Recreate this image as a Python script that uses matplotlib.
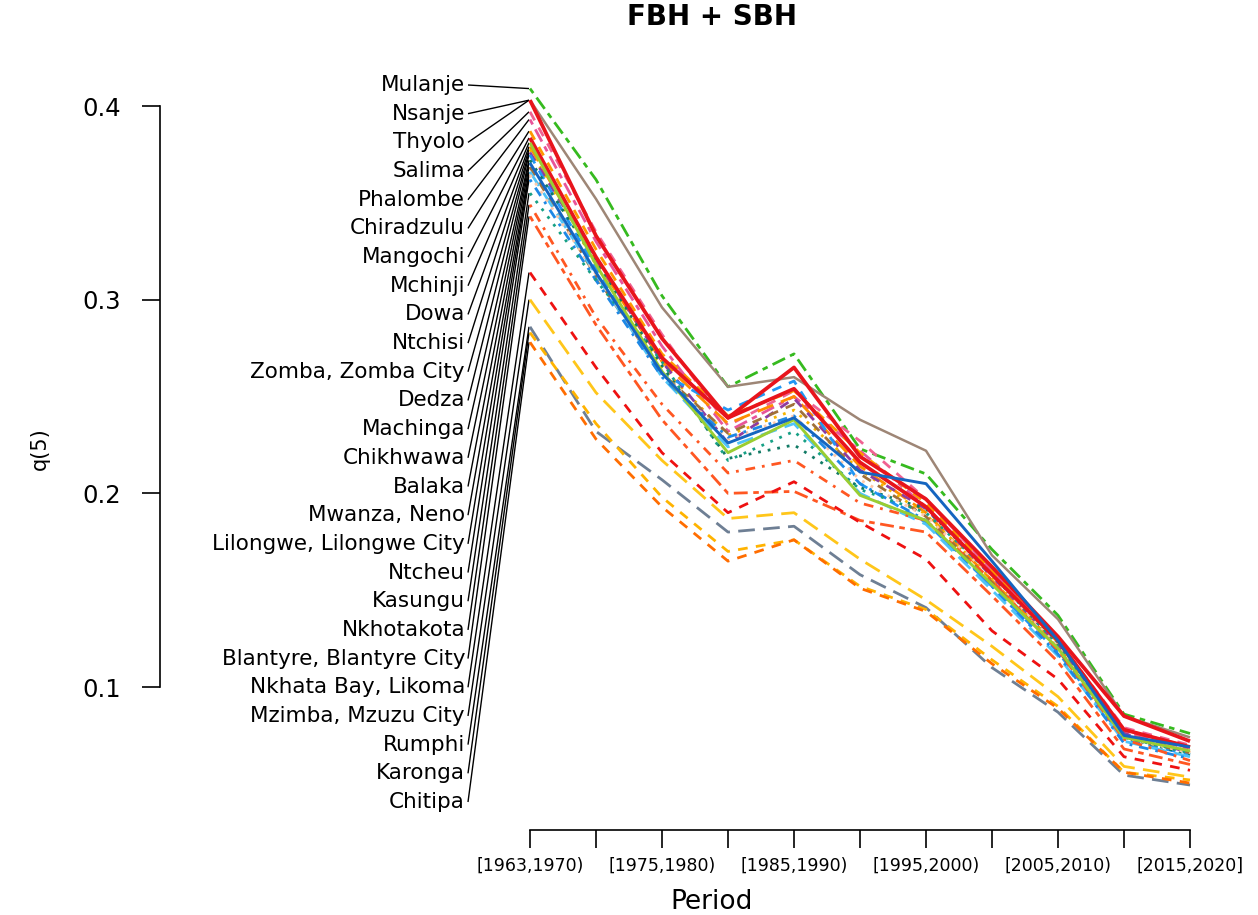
import matplotlib
matplotlib.use("Agg")
import matplotlib.pyplot as plt
import numpy as np

# ---------------- data ----------------
periods = ["[1963,1970)", "[1970,1975)", "[1975,1980)", "[1980,1985)", "[1985,1990)",
           "[1990,1995)", "[1995,2000)", "[2000,2005)", "[2005,2010)", "[2010,2015)",
           "[2015,2020]"]

districts = ["Mulanje", "Nsanje", "Thyolo", "Salima", "Phalombe", "Chiradzulu", "Mangochi",
             "Mchinji", "Dowa", "Ntchisi", "Zomba, Zomba City", "Dedza", "Machinga",
             "Chikhwawa", "Balaka", "Mwanza, Neno", "Lilongwe, Lilongwe City", "Ntcheu",
             "Kasungu", "Nkhotakota", "Blantyre, Blantyre City", "Nkhata Bay, Likoma",
             "Mzimba, Mzuzu City", "Rumphi", "Karonga", "Chitipa"]

mulanje    = [0.409, 0.362, 0.302, 0.255, 0.272, 0.223, 0.210, 0.171, 0.137, 0.086, 0.076]
nsanje     = [0.403, 0.352, 0.296, 0.255, 0.260, 0.238, 0.222, 0.168, 0.135, 0.085, 0.074]
thyolo     = [0.403, 0.333, 0.280, 0.239, 0.265, 0.219, 0.197, 0.162, 0.126, 0.085, 0.072]
salima     = [0.397, 0.335, 0.282, 0.235, 0.253, 0.227, 0.197, 0.160, 0.124, 0.079, 0.070]
phalombe   = [0.393, 0.330, 0.276, 0.232, 0.250, 0.222, 0.193, 0.159, 0.124, 0.077, 0.068]
chiradzulu = [0.387, 0.326, 0.272, 0.240, 0.253, 0.221, 0.195, 0.160, 0.123, 0.078, 0.069]
mangochi   = [0.3835, 0.322, 0.270, 0.239, 0.254, 0.216, 0.193, 0.158, 0.124, 0.078, 0.069]
mchinji    = [0.381, 0.318, 0.263, 0.221, 0.238, 0.199, 0.186, 0.153, 0.120, 0.074, 0.067]
dowa       = [0.379, 0.320, 0.268, 0.236, 0.250, 0.214, 0.190, 0.155, 0.121, 0.076, 0.066]
ntchisi    = [0.3775, 0.318, 0.265, 0.230, 0.243, 0.212, 0.189, 0.156, 0.120, 0.075, 0.067]
zomba      = [0.376, 0.321, 0.268, 0.226, 0.249, 0.212, 0.192, 0.157, 0.122, 0.076, 0.066]
dedza      = [0.3747, 0.316, 0.262, 0.243, 0.258, 0.205, 0.185, 0.152, 0.118, 0.073, 0.065]
machinga   = [0.372, 0.320, 0.266, 0.218, 0.225, 0.203, 0.192, 0.158, 0.122, 0.074, 0.065]
chikhwawa  = [0.3706, 0.314, 0.262, 0.226, 0.239, 0.211, 0.205, 0.165, 0.124, 0.075, 0.069]
balaka     = [0.3685, 0.312, 0.262, 0.231, 0.246, 0.210, 0.188, 0.154, 0.119, 0.074, 0.066]
mwanza     = [0.366, 0.313, 0.260, 0.224, 0.236, 0.200, 0.184, 0.150, 0.116, 0.072, 0.064]
lilongwe   = [0.3644, 0.313, 0.262, 0.228, 0.240, 0.207, 0.188, 0.157, 0.121, 0.074, 0.066]
ntcheu     = [0.362, 0.310, 0.260, 0.229, 0.240, 0.205, 0.186, 0.152, 0.117, 0.071, 0.063]
kasungu    = [0.355, 0.310, 0.268, 0.217, 0.232, 0.202, 0.190, 0.158, 0.122, 0.074, 0.066]
nkhotakota = [0.349, 0.291, 0.246, 0.2105, 0.217, 0.195, 0.186, 0.155, 0.119, 0.073, 0.062]
blantyre   = [0.343, 0.287, 0.238, 0.200, 0.201, 0.186, 0.180, 0.147, 0.113, 0.068, 0.060]
nkhatabay  = [0.314, 0.265, 0.221, 0.190, 0.206, 0.185, 0.166, 0.129, 0.104, 0.064, 0.057]
mzimba     = [0.300, 0.252, 0.217, 0.187, 0.190, 0.166, 0.145, 0.121, 0.095, 0.059, 0.0535]
rumphi     = [0.286, 0.232, 0.207, 0.180, 0.183, 0.158, 0.141, 0.110, 0.087, 0.0545, 0.0494]
karonga    = [0.283, 0.236, 0.198, 0.170, 0.176, 0.152, 0.140, 0.114, 0.090, 0.056, 0.052]
chitipa    = [0.278, 0.228, 0.193, 0.165, 0.176, 0.151, 0.139, 0.112, 0.089, 0.056, 0.0504]

series = [mulanje, nsanje, thyolo, salima, phalombe, chiradzulu, mangochi, mchinji, dowa,
          ntchisi, zomba, dedza, machinga, chikhwawa, balaka, mwanza, lilongwe, ntcheu,
          kasungu, nkhotakota, blantyre, nkhatabay, mzimba, rumphi, karonga, chitipa]

# ---------------- styles ----------------
SOLID = "-"
DASHED = (0, (3.5, 3))
DOTTED = (0, (1, 2.5))
DOTDASH = (0, (1, 2.5, 3.5, 2.5))
LONGDASH = (0, (6, 3))
TWODASH = (0, (2, 2, 5, 2))

LW = 2.0
styles = [
    ("#36BA1F", TWODASH, LW),    # Mulanje
    ("#9E8676", SOLID, 1.8),     # Nsanje
    ("#E8141C", SOLID, 2.7),     # Thyolo
    ("#F06292", DASHED, LW),     # Salima
    ("#E8559A", TWODASH, LW),    # Phalombe
    ("#FF9800", DASHED, LW),     # Chiradzulu
    ("#E8141C", SOLID, 2.7),     # Mangochi
    ("#9ACD32", SOLID, 2.1),     # Mchinji
    ("#FF8C00", LONGDASH, LW),   # Dowa
    ("#F4B400", DOTTED, LW),     # Ntchisi
    ("#8E3CA0", DASHED, LW),     # Zomba
    ("#2196F3", DASHED, LW),     # Dedza
    ("#117A65", DOTTED, LW),     # Machinga
    ("#1565C0", SOLID, 2.1),     # Chikhwawa
    ("#A0703A", DASHED, LW),     # Balaka
    ("#4FC3F7", LONGDASH, LW),   # Mwanza
    ("#FFC8A8", DOTTED, LW),     # Lilongwe
    ("#1E88E5", DOTDASH, LW),    # Ntcheu
    ("#16A085", DOTTED, LW),     # Kasungu
    ("#FF5722", DOTDASH, LW),    # Nkhotakota
    ("#FF5722", TWODASH, LW),    # Blantyre
    ("#EE1111", DASHED, LW),     # Nkhata Bay
    ("#FFC61A", LONGDASH, LW),   # Mzimba
    ("#6E7F94", LONGDASH, LW),   # Rumphi
    ("#FFB300", DASHED, LW),     # Karonga
    ("#FF6D00", DASHED, LW),     # Chitipa
]

FONT = "DejaVu Sans"
plt.rcParams["font.family"] = [FONT]

W, H = 1258, 915
fig = plt.figure(figsize=(W / 100, H / 100), dpi=100)

# axes in pixel layout
ax_l, ax_r, ax_t, ax_b = 160, 1200, 60, 830
ax = fig.add_axes([ax_l / W, (H - ax_b) / H, (ax_r - ax_l) / W, (ax_b - ax_t) / H])

px_per_x = 66.0
px_per_y = 1936.7
x0_px, y04_px = 530, 106
ax.set_xlim((ax_l - x0_px) / px_per_x, (ax_r - x0_px) / px_per_x)
ax.set_ylim(0.4 - (ax_b - y04_px) / px_per_y, 0.4 + (y04_px - ax_t) / px_per_y)

x = np.arange(len(periods))

# draw lines: dashed/dotted first, solid on top
order = [i for i in range(len(series)) if styles[i][1] != SOLID] + \
        [i for i in range(len(series)) if styles[i][1] == SOLID]
for z, i in enumerate(order):
    c, ls, lw = styles[i]
    ax.plot(x, series[i], color=c, linestyle=ls, linewidth=lw, zorder=2 + z * 0.01,
            solid_capstyle="butt", dash_capstyle="butt")

# labels with leader lines
label_y = np.linspace(0.4 - (85 - y04_px) / px_per_y, 0.4 - (802 - y04_px) / px_per_y,
                      len(districts))
text_x = (465 - x0_px) / px_per_x
line_x0 = (468 - x0_px) / px_per_x
line_x1 = (529 - x0_px) / px_per_x
for name, ly, s in zip(districts, label_y, series):
    ax.text(text_x, ly, name, ha="right", va="center", fontsize=15.5, family=FONT,
            color="black")
    ax.plot([line_x0, line_x1], [ly, s[0]], color="black", linewidth=1.0,
            solid_capstyle="butt", zorder=1)

# axes styling (R-like)
for side in ["top", "right"]:
    ax.spines[side].set_visible(False)
ax.spines["left"].set_bounds(0.1, 0.4)
ax.spines["bottom"].set_bounds(0, 10)
ax.spines["left"].set_linewidth(1.2)
ax.spines["bottom"].set_linewidth(1.2)

ax.set_yticks([0.1, 0.2, 0.3, 0.4])
ax.set_yticklabels(["0.1", "0.2", "0.3", "0.4"], fontsize=17.5)
ax.set_xticks(x)
ax.set_xticklabels([p if k % 2 == 0 else "" for k, p in enumerate(periods)], fontsize=12.5)
ax.tick_params(axis="y", length=13, width=1.2, pad=15)
ax.tick_params(axis="x", length=13, width=1.2, pad=6)

ax.set_xlabel("Period", fontsize=19)
ax.xaxis.set_label_coords((712 - ax_l) / (ax_r - ax_l), (ax_b - 902) / (ax_b - ax_t))
ax.xaxis.label.set_va("center")
ax.set_ylabel("q(5)", fontsize=15)
ax.yaxis.set_label_coords((40 - ax_l) / (ax_r - ax_l), (ax_b - 449) / (ax_b - ax_t))
ax.yaxis.label.set_va("center")

fig.text(712 / W, 1 - 17 / H, "FBH + SBH", ha="center", va="center", fontsize=20,
         fontweight="bold")

fig.savefig("out.png", dpi=100)
